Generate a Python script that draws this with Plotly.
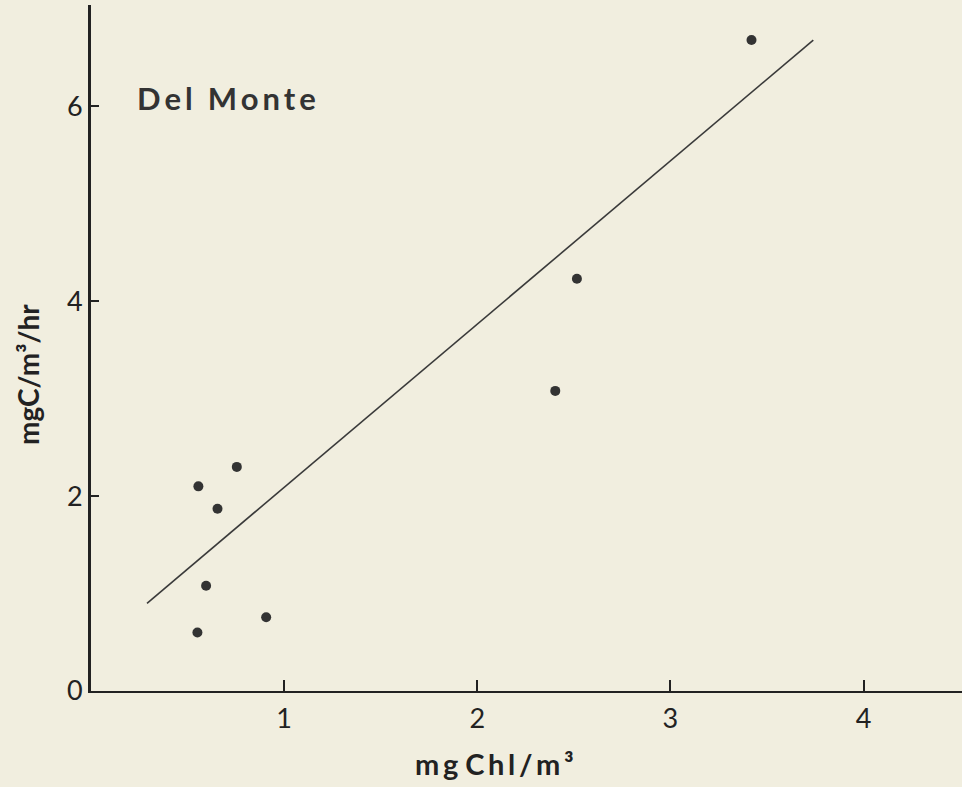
import plotly.graph_objects as go

# Chlorophyll concentration vs. carbon uptake rate, Del Monte station
chl = [0.556, 0.755, 0.655, 0.596, 0.907, 0.551, 2.516, 2.404, 3.42]
prod = [2.10, 2.30, 1.87, 1.08, 0.756, 0.60, 4.23, 3.08, 6.68]

# Fitted regression line (end points)
fit_x = [0.29, 3.74]
fit_y = [0.90, 6.68]

x_ticks = [1, 2, 3, 4]
y_ticks = [0, 2, 4, 6]

bg = "#F1EEDF"
ink = "#222222"
font_family = "Lato, 'Open Sans', sans-serif"
thin = "\u2009"


def spaced(word):
    return thin.join(word)


fig = go.Figure()
fig.add_trace(go.Scatter(
    x=fit_x, y=fit_y, mode="lines",
    line=dict(color="#3a3a3a", width=1.6),
    hoverinfo="skip", showlegend=False,
))
fig.add_trace(go.Scatter(
    x=chl, y=prod, mode="markers",
    marker=dict(color="#333333", size=10),
    showlegend=False,
))

fig.update_layout(
    width=962, height=787,
    margin=dict(l=91, r=0, t=5, b=96),
    paper_bgcolor=bg, plot_bgcolor=bg,
    font=dict(family=font_family, color=ink, size=27),
    xaxis=dict(
        range=[0, 4.51], tickvals=x_ticks, ticktext=[str(v) for v in x_ticks],
        showgrid=False, zeroline=False,
        showline=True, linecolor=ink, linewidth=2.2,
        ticks="inside", ticklen=11, tickwidth=1.6, tickcolor=ink,
        tickfont=dict(size=27), ticklabelstandoff=2,
    ),
    yaxis=dict(
        range=[0, 7.04], tickvals=y_ticks, ticktext=[str(v) for v in y_ticks],
        showgrid=False, zeroline=False,
        showline=True, linecolor=ink, linewidth=2.8,
        ticks="inside", ticklen=8, tickwidth=1.6, tickcolor=ink,
        tickfont=dict(size=27), ticklabelstandoff=0,
    ),
    annotations=[
        dict(text="<b>" + spaced("Del") + "  " + spaced("Monte") + "</b>",
             xref="paper", yref="paper",
             x=0.0505, y=0.864, xanchor="left", yanchor="middle",
             showarrow=False, font=dict(size=31, color="#333333")),
        dict(text="<b>" + spaced("mg") + " " + spaced("Chl/m³") + "</b>",
             xref="paper", yref="paper",
             x=0.4638, y=-0.105, xanchor="center", yanchor="middle",
             showarrow=False, font=dict(size=29, color=ink)),
        dict(text="<b>mgC/m³/hr</b>", xref="paper", yref="paper",
             x=-0.0723, y=0.4606, xanchor="center", yanchor="middle",
             textangle=-90, showarrow=False, font=dict(size=28, color=ink)),
    ],
)

fig.write_html("out.html")
